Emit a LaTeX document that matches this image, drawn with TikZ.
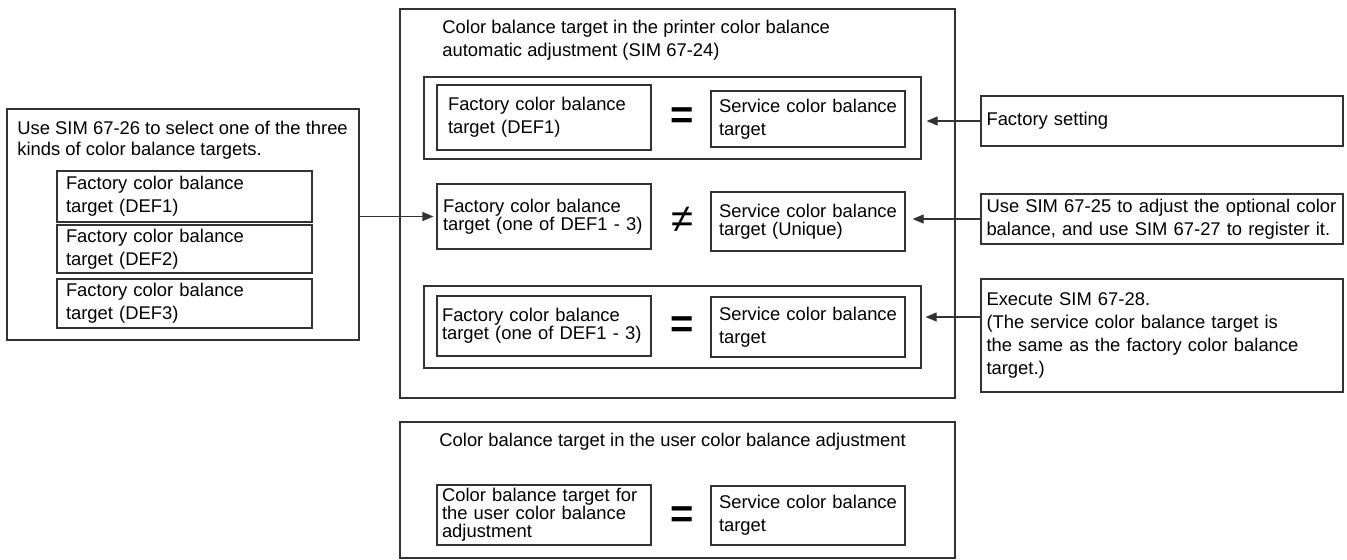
\documentclass[tikz,border=0pt]{standalone}
\usepackage{fontspec}
\setmainfont{Liberation Sans}
\usetikzlibrary{arrows.meta}

\tikzset{
  box/.style={draw=black!80, line width=0.6pt, align=left, inner xsep=1pt, inner ysep=1pt,
    font=\fontsize{9.2}{11.5}\selectfont},
  tight/.style={font=\fontsize{9.2}{9}\selectfont},
  frame/.style={draw=black!80, line width=0.6pt, inner sep=0pt},
  title/.style={anchor=north west, inner sep=0pt, align=left, font=\fontsize{9.2}{11.5}\selectfont},
  rel/.style={inner sep=0pt, font=\fontsize{20}{20}\selectfont},
  arr/.style={draw=black!80, line width=0.6pt, -{Triangle[length=5.5pt,width=4.5pt]}},
}

\begin{document}
\begin{tikzpicture}[x=0.5pt, y=-0.5pt]
\useasboundingbox (0,0) rectangle (1347,559);

% Printer color balance
\node[frame, minimum width=277.5pt, minimum height=194.5pt] (P) at (677.5,203.5) {};
\node[title] (Pt) at (442,20) {Color balance target in the printer color balance\\automatic adjustment (SIM 67-24)};

\node[frame, minimum width=248.5pt, minimum height=41pt] (A) at (672.5,118) {};
\node[box, minimum width=107pt, minimum height=32.5pt, text width=96pt] (F1) at (544,117.5) {Factory color balance\\target (DEF1)};
\node[rel, font=\bfseries\fontsize{20}{20}\selectfont] (E1) at (682,118) {=};
\node[box, minimum width=97pt, minimum height=28pt, text width=89pt] (S1) at (808,119) {Service color balance\\target};

\node[box, tight, minimum width=107pt, minimum height=32.5pt, text width=101pt] (F2) at (544,216.5) {Factory color balance\\target (one of DEF1 - 3)};
\node[rel] (E2) at (682,220) {≠};
\node[box, tight, minimum width=97pt, minimum height=29.5pt, text width=89pt] (S2) at (808,221.5) {Service color balance\\target (Unique)};

\node[frame, minimum width=248.5pt, minimum height=41pt] (C) at (672.5,327) {};
\node[box, tight, minimum width=107pt, minimum height=30pt, text width=102pt] (F3) at (544,326) {Factory color balance\\target (one of DEF1 - 3)};
\node[rel, font=\bfseries\fontsize{20}{20}\selectfont] (E3) at (682,327) {=};
\node[box, minimum width=97pt, minimum height=30pt, text width=89pt] (S3) at (808,327) {Service color balance\\target};

% Settings
\node[box, minimum width=181pt, minimum height=25pt, text width=175.5pt] (R1) at (1162,121) {Factory setting};
\node[box, minimum width=181pt, minimum height=25pt, text width=175.5pt] (R2) at (1162,219) {Use SIM 67-25 to adjust the optional color\\balance, and use SIM 67-27 to register it.};
\node[box, minimum width=181pt, minimum height=56.5pt, text width=175.5pt] (R3) at (1162,335.5) {Execute SIM 67-28.\\(The service color balance target is\\the same as the factory color balance\\target.)};
\coordinate (k) at (981,317);

\draw[arr, shorten >=2.5pt] (R1.west) -- (A.east |- R1.west);
\draw[arr, shorten >=3.5pt] (R2.west) -- (S2.east |- R2.west);
\draw[arr, shorten >=2pt] (R3.west |- k) -- (C.east |- k);

% Selection
\node[frame, minimum width=176pt, minimum height=115.5pt] (L) at (183,224.5) {};
\node[title, font=\fontsize{9.2}{10.5}\selectfont] (Lt) at (17,121) {Use SIM 67-26 to select one of the three\\kinds of color balance targets.};
\foreach \i/\y/\h in {1/196.5/25.5, 2/249/24, 3/303.5/24.5}
  \node[box, minimum width=127.5pt, minimum height=\h pt, text width=118.5pt] (D\i) at (184.5,\y) {Factory color balance\\target (DEF\i)};

\draw[arr, shorten >=1.5pt] (L.east |- F2.west) -- (F2.west);

% User color balance
\node[frame, minimum width=277.5pt, minimum height=68pt] (U) at (677.5,490) {};
\node[title] (Ut) at (439,433) {Color balance target in the user color balance adjustment};
\node[box, tight, minimum width=107pt, minimum height=30pt, text width=102pt] (UF) at (544,515) {Color balance target for\\the user color balance\\adjustment};
\node[rel, font=\bfseries\fontsize{20}{20}\selectfont] (E4) at (682,517) {=};
\node[box, minimum width=97pt, minimum height=29.5pt, text width=89pt] (US) at (808,515.5) {Service color balance\\target};
\end{tikzpicture}
\end{document}
